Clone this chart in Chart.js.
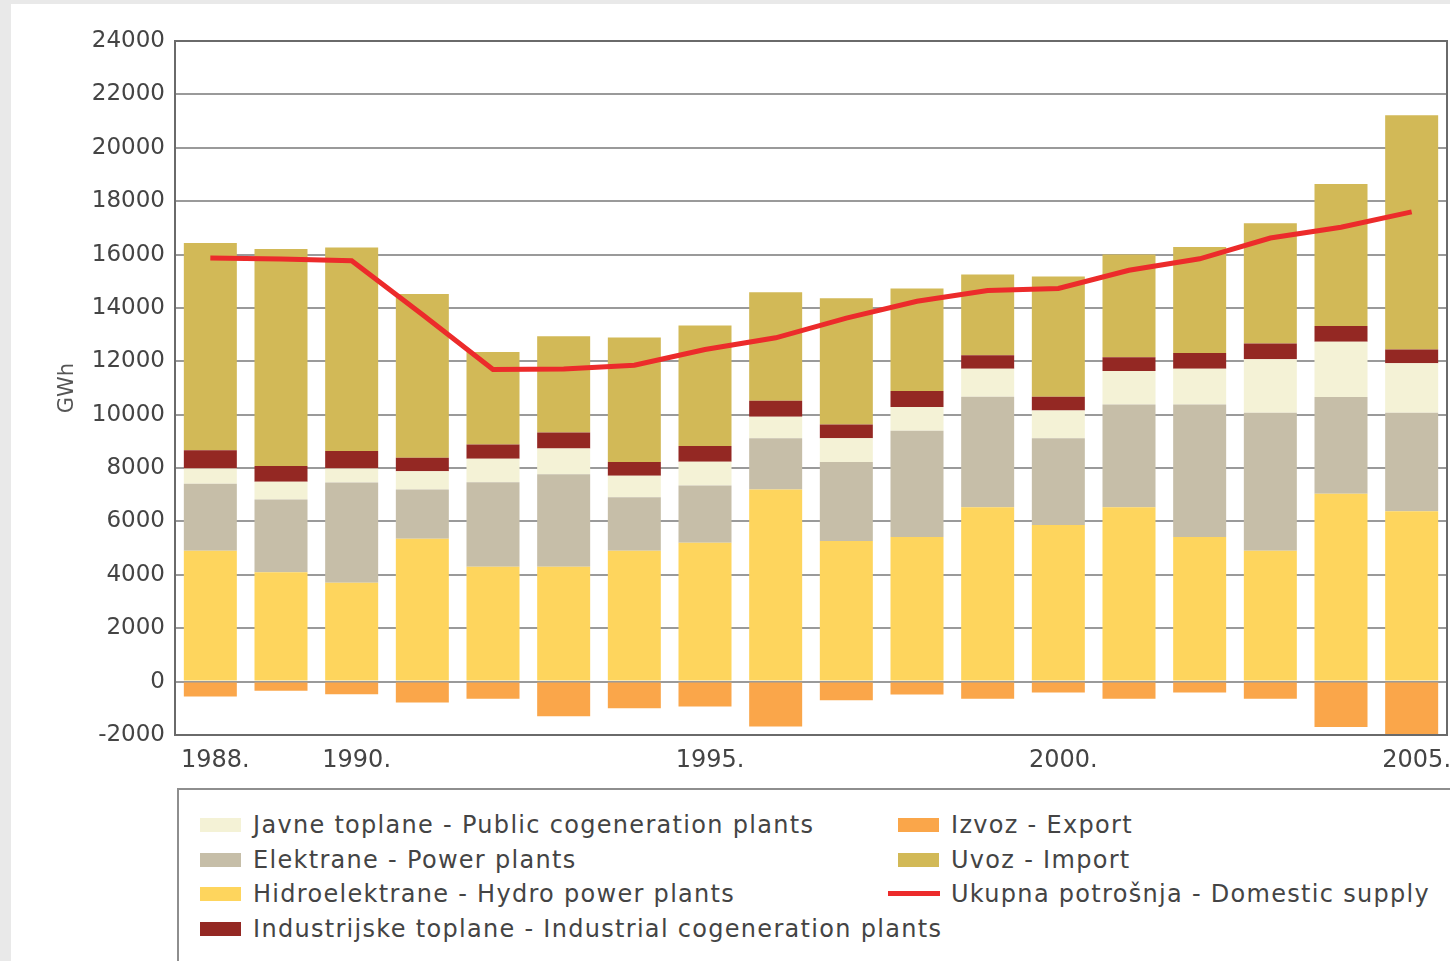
<!DOCTYPE html>
<html lang="hr">
<head>
    <meta charset="UTF-8">
    <title>Električna energija 1988. - 2005.</title>
    <script src="https://cdn.jsdelivr.net/npm/chart.js"></script>
    <style>
        html, body {
            margin: 0;
            padding: 0;
            width: 1450px;
            height: 961px;
            overflow: hidden;
            background: #e9e9e9;
            font-family: 'DejaVu Sans', Verdana, sans-serif;
        }
        .panel {
            position: absolute;
            left: 11px;
            top: 4px;
            width: 1439px;
            height: 957px;
            background: #ffffff;
        }
        .chart-box {
            position: absolute;
            left: 0;
            top: 0;
            width: 1450px;
            height: 785px;
        }
        .legend {
            position: absolute;
            left: 177px;
            top: 788px;
            width: 1320px;
            height: 220px;
            border: 2px solid #8e8e8e;
            box-sizing: border-box;
        }
        .legend-item {
            position: absolute;
            height: 30px;
            font-size: 24px;
            letter-spacing: 1.3px;
            line-height: 30px;
            color: #444444;
            white-space: nowrap;
        }
        .legend-item .swatch {
            position: absolute;
            top: 8px;
            width: 41px;
            height: 14px;
        }
        .legend-item .swatch.line {
            top: 12px;
            width: 52px;
            height: 5px;
        }
        .legend-item .text {
            position: absolute;
            top: 0;
        }
    </style>
</head>
<body>
    <div class="panel"></div>
    <div class="chart-box">
        <canvas id="energyChart"></canvas>
    </div>
    <div class="legend" id="legend"></div>

    <script>
        const years = [1988, 1989, 1990, 1991, 1992, 1993, 1994, 1995, 1996,
                       1997, 1998, 1999, 2000, 2001, 2002, 2003, 2004, 2005];
        const tickLabels = ['1988.', '1990.', '1995.', '2000.', '2005.'];

        // GWh
        const hydro = [4900, 4100, 3700, 5350, 4300, 4300, 4900, 5200, 7200,
                       5270, 5420, 6530, 5870, 6530, 5420, 4900, 7040, 6380];
        const powerPlants = [2510, 2720, 3760, 1850, 3170, 3470, 2010, 2150, 1920,
                             2960, 3980, 4140, 3250, 3850, 4960, 5170, 3620, 3690];
        const publicCogen = [570, 670, 520, 680, 880, 960, 800, 890, 800,
                             890, 890, 1050, 1040, 1260, 1340, 2010, 2070, 1860];
        const industrialCogen = [690, 590, 660, 510, 530, 600, 520, 590, 600,
                                 510, 600, 510, 510, 510, 590, 590, 590, 510];
        const imports = [7760, 8130, 7620, 6130, 3470, 3610, 4660, 4510, 4070,
                         4730, 3840, 3020, 4510, 3850, 3970, 4500, 5320, 8780];
        const exports = [-560, -340, -470, -780, -640, -1300, -1000, -930, -1680,
                         -700, -480, -640, -410, -640, -410, -640, -1700, -1960];
        const domesticSupply = [15870, 15830, 15770, 13750, 11690, 11710, 11850, 12440, 12880,
                                13620, 14250, 14650, 14730, 15410, 15840, 16620, 17020, 17600];

        const borderPlugin = {
            id: 'plotBorder',
            afterDraw(chart) {
                const a = chart.chartArea;
                const ctx = chart.ctx;
                ctx.save();
                ctx.strokeStyle = '#6a6a6a';
                ctx.lineWidth = 2;
                ctx.strokeRect(a.left, a.top, a.right - a.left, a.bottom - a.top);
                ctx.restore();
            }
        };

        const ctx = document.getElementById('energyChart').getContext('2d');
        const chart = new Chart(ctx, {
            type: 'bar',
            data: {
                labels: years,
                datasets: [
                    {
                        type: 'line',
                        label: 'Ukupna potrošnja - Domestic supply',
                        data: domesticSupply,
                        stack: 'supply',
                        borderColor: '#ec2b2b',
                        backgroundColor: '#ec2b2b',
                        borderWidth: 5,
                        pointRadius: 0,
                        tension: 0,
                        fill: false
                    },
                    { label: 'Hidroelektrane - Hydro power plants', data: hydro, backgroundColor: '#fed55d', stack: 'gen' },
                    { label: 'Elektrane - Power plants', data: powerPlants, backgroundColor: '#c6bea8', stack: 'gen' },
                    { label: 'Javne toplane - Public cogeneration plants', data: publicCogen, backgroundColor: '#f4f2d6', stack: 'gen' },
                    { label: 'Industrijske toplane - Industrial cogeneration plants', data: industrialCogen, backgroundColor: '#942823', stack: 'gen' },
                    { label: 'Uvoz - Import', data: imports, backgroundColor: '#d2b957', stack: 'gen' },
                    { label: 'Izvoz - Export', data: exports, backgroundColor: '#faa64a', stack: 'gen' }
                ]
            },
            options: {
                responsive: true,
                maintainAspectRatio: false,
                animation: false,
                datasets: {
                    bar: {
                        barPercentage: 0.75,
                        categoryPercentage: 1.0,
                        borderWidth: 0
                    }
                },
                layout: {
                    padding: { left: 55, top: 41, right: 3, bottom: 0 }
                },
                scales: {
                    x: {
                        stacked: true,
                        offset: true,
                        grid: { display: false, drawTicks: false },
                        border: { display: true, color: '#6a6a6a', width: 2 },
                        ticks: {
                            autoSkip: false,
                            maxRotation: 0,
                            padding: 11,
                            labelOffset: 5,
                            color: '#444444',
                            font: { family: 'DejaVu Sans', size: 24 },
                            callback: function(value, index) {
                                const t = years[index] + '.';
                                return tickLabels.includes(t) ? t : '';
                            }
                        },
                        afterFit: function(scale) {
                            scale.height = 50;
                            scale.paddingLeft = 0;
                            scale.paddingRight = 0;
                        }
                    },
                    y: {
                        stacked: true,
                        min: -2000,
                        max: 24000,
                        grid: { color: '#9a9a9a', lineWidth: 2, drawTicks: false },
                        border: { display: true, color: '#6a6a6a', width: 2 },
                        ticks: {
                            stepSize: 2000,
                            padding: 10,
                            color: '#444444',
                            font: { family: 'DejaVu Sans', size: 23 },
                            callback: function(value) { return String(value); }
                        },
                        title: {
                            display: true,
                            text: 'GWh',
                            color: '#555555',
                            font: { family: 'DejaVu Sans', size: 21 },
                            padding: 0
                        },
                        afterFit: function(scale) { scale.width = 120; }
                    }
                },
                plugins: {
                    legend: { display: false },
                    tooltip: { enabled: false }
                }
            },
            plugins: [borderPlugin]
        });

        // legend in two columns, built from the datasets
        const legendColumns = [
            { x: 21, labels: ['Javne toplane - Public cogeneration plants', 'Elektrane - Power plants',
                              'Hidroelektrane - Hydro power plants', 'Industrijske toplane - Industrial cogeneration plants'] },
            { x: 719, labels: ['Izvoz - Export', 'Uvoz - Import', 'Ukupna potrošnja - Domestic supply'] }
        ];
        const legendEl = document.getElementById('legend');
        legendColumns.forEach(function(col) {
            col.labels.forEach(function(label, row) {
                const ds = chart.data.datasets.find(function(d) { return d.label === label; });
                const item = document.createElement('div');
                item.className = 'legend-item';
                item.style.left = col.x + 'px';
                item.style.top = (20 + row * 34.5) + 'px';
                const sw = document.createElement('div');
                const isLine = ds.type === 'line';
                sw.className = isLine ? 'swatch line' : 'swatch';
                sw.style.left = isLine ? '-10px' : '0px';
                sw.style.background = isLine ? ds.borderColor : ds.backgroundColor;
                const tx = document.createElement('span');
                tx.className = 'text';
                tx.style.left = '53px';
                tx.textContent = label;
                item.appendChild(sw);
                item.appendChild(tx);
                legendEl.appendChild(item);
            });
        });
    </script>
</body>
</html>
